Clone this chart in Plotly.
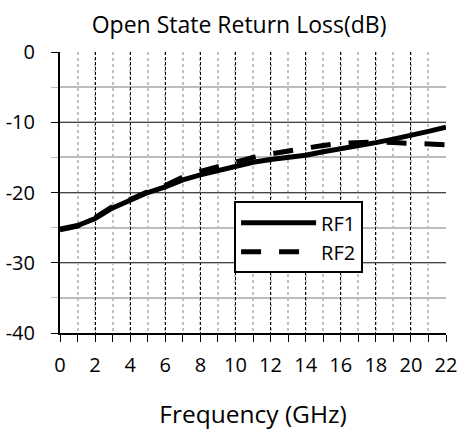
import plotly.graph_objects as go

freq = list(range(0, 23))
rf1 = [-25.2, -24.7, -23.7, -22.2, -21.1, -20.0, -19.2, -18.2, -17.5, -16.9, -16.2,
       -15.7, -15.3, -15.0, -14.7, -14.2, -13.8, -13.4, -12.9, -12.4, -11.9, -11.3, -10.7]
rf2 = [-25.3, -24.8, -23.6, -22.0, -21.0, -19.9, -19.0, -17.8, -17.0, -16.3, -15.7,
       -15.0, -14.5, -14.1, -13.6, -13.3, -13.0, -12.9, -12.8, -12.9, -13.0, -13.1, -13.2]
x_ticks = list(range(0, 23, 2))
y_ticks = [0, -10, -20, -30, -40]
y_tick_labels = ["0", "-10", "-20", "-30", "-40"]

FONT = "Open Sans"

fig = go.Figure()
fig.add_trace(go.Scatter(x=freq, y=rf1, name="RF1", mode="lines",
                         line=dict(color="black", width=5)))
fig.add_trace(go.Scatter(x=freq, y=rf2, name="RF2", mode="lines",
                         line=dict(color="black", width=5, dash="20px,18px")))

fig.update_layout(
    width=458, height=430,
    margin=dict(l=60, r=12, t=52, b=97, autoexpand=False),
    paper_bgcolor="white", plot_bgcolor="white",
    font=dict(family=FONT, size=20, color="black"),
    title=dict(text="Open State Return Loss(dB)", x=0.522, xanchor="center",
               y=0.941, yanchor="middle", font=dict(size=23)),
    legend=dict(x=0.451, y=0.469, xanchor="left", yanchor="top",
                bgcolor="white", bordercolor="black", borderwidth=2,
                font=dict(size=20), itemwidth=75, tracegroupgap=0),
    showlegend=True,
)
fig.update_xaxes(
    range=[0, 22], tickvals=x_ticks, ticks="outside", ticklen=7, tickcolor="black",
    automargin=False, ticklabelstandoff=6,
    showline=True, linecolor="black", linewidth=2,
    showgrid=True, gridcolor="black", gridwidth=1, griddash="3px,2px",
    minor=dict(dtick=1, showgrid=True, gridcolor="#c0c0c0", gridwidth=2, griddash="dot",
               ticks="outside", ticklen=7, tickcolor="black"),
    title=dict(text="Frequency (GHz)", font=dict(size=24.5), standoff=32),
    zeroline=False,
)
fig.update_yaxes(
    range=[-40, 0], tickvals=y_ticks, ticktext=y_tick_labels,
    ticks="outside", ticklen=7, tickcolor="black",
    automargin=False, ticklabelstandoff=12,
    showline=True, linecolor="black", linewidth=2,
    showgrid=True, gridcolor="#444", gridwidth=1,
    minor=dict(dtick=5, showgrid=True, gridcolor="#bdbdbd", gridwidth=2,
               ticks="outside", ticklen=7, tickcolor="#bdbdbd"),
    zeroline=False,
)

fig.write_html("out.html", config={"displayModeBar": False},
               post_script="document.body.style.margin='0';document.body.style.overflow='hidden';")
